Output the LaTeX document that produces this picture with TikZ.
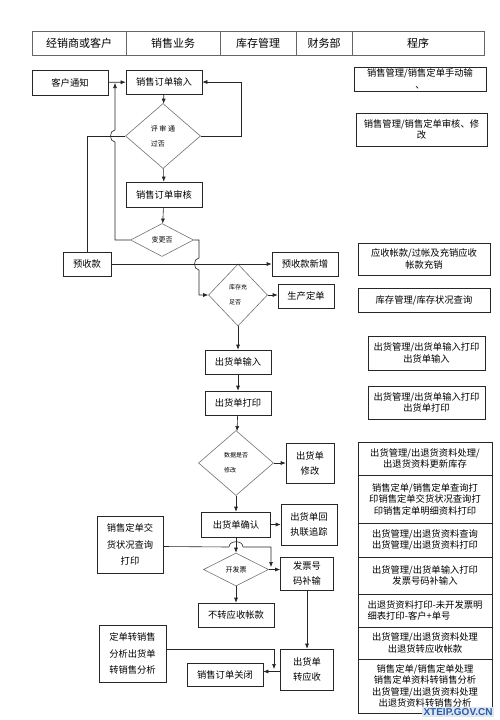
\documentclass[tikz,border=0pt]{standalone}
\usepackage{fontspec}
\setmainfont{Noto Sans CJK SC}
\newfontfamily\wmfont{Liberation Sans}
\usetikzlibrary{arrows.meta,shapes.geometric}
\definecolor{wmblue}{RGB}{40,90,170}
\definecolor{wmbg}{RGB}{222,230,240}
\begin{document}
\begin{tikzpicture}[x=1pt,y=-1pt,
  box/.style={draw=black!85, line width=0.6pt, align=center, inner sep=1pt, font=\fontsize{9.3}{15}\selectfont},
  prog/.style={draw=black!85, line width=0.6pt, align=center, inner sep=1pt, font=\fontsize{9.3}{11.5}\selectfont},
  hdr/.style={draw=black!60, line width=0.8pt, align=center, inner sep=1pt, minimum height=24pt, font=\fontsize{11}{13}\selectfont},
  dia/.style={draw=black!55, line width=0.6pt, diamond, inner sep=0pt, align=left, font=\fontsize{6}{15}\selectfont},
  conn/.style={draw=black!85, line width=0.6pt},
  arr/.style={conn, -{Latex[length=5pt,width=4pt]}},
]
\fill[white] (0,0) rectangle (500,720);
\useasboundingbox (0,0) rectangle (500,720);

% header
\node[hdr, minimum width=94pt] (h1) at (79,43) {经销商或客户};
\node[hdr, minimum width=94pt] (h2) at (173,43) {销售业务};
\node[hdr, minimum width=76pt] (h3) at (258,43) {库存管理};
\node[hdr, minimum width=56pt] (h4) at (324,43) {财务部};
\node[hdr, minimum width=132pt] (h5) at (418,43) {程序};

% flow boxes
\node[box, minimum width=76pt, minimum height=25pt] (c1) at (70,82.5) {客户通知};
\node[box, minimum width=76pt, minimum height=24pt] (c2) at (164,82) {销售订单输入};
\node[dia, minimum width=75pt, minimum height=65pt, font=\fontsize{7}{15}\selectfont] (D1) at (163,136) {评 审 通\\过否};
\node[box, minimum width=76pt, minimum height=25pt] (c3) at (164,194.5) {销售订单审核};
\node[dia, minimum width=63pt, minimum height=33pt, font=\fontsize{7}{9}\selectfont] (D2) at (162,240) {变更否};
\node[box, minimum width=48pt, minimum height=24pt] (c4) at (87,264) {预收款};
\node[box, minimum width=66pt, minimum height=24pt] (c5) at (305,264) {预收款新增};
\node[dia, minimum width=59pt, minimum height=62pt] (D3) at (238,295) {库存充\\足否};
\node[box, minimum width=56pt, minimum height=24pt] (c6) at (306,296) {生产定单};
\node[box, minimum width=66pt, minimum height=24pt] (c7) at (238,362) {出货单输入};
\node[box, minimum width=66pt, minimum height=24pt] (c8) at (238,403) {出货单打印};
\node[dia, minimum width=75pt, minimum height=65pt] (D4) at (236,463) {数据是否\\修改};
\node[box, minimum width=48pt, minimum height=40pt] (c9) at (310,463) {出货单\\修改};
\node[box, minimum width=69pt, minimum height=25pt] (c10) at (236,524.5) {出货单确认};
\node[box, minimum width=56pt, minimum height=41pt] (c11) at (309,524.5) {出货单回\\执联追踪};
\node[dia, minimum width=65pt, minimum height=33pt, font=\fontsize{7}{9}\selectfont] (D5) at (236,569.5) {开发票};
\node[box, minimum width=53pt, minimum height=33pt] (c12) at (307,573.5) {发票号\\码补输};
\node[box, minimum width=66pt, minimum height=57pt, font=\fontsize{9.3}{16.5}\selectfont] (c13) at (130,544.5) {销售定单交\\货状况查询\\打印};
\node[box, minimum width=76pt, minimum height=24pt] (c14) at (236,615) {不转应收帐款};
\node[box, minimum width=53pt, minimum height=41pt] (c15) at (307,669.5) {出货单\\转应收};
\node[box, minimum width=76pt, minimum height=23pt] (c16) at (225,674.5) {销售订单关闭};
\node[box, minimum width=67pt, minimum height=57pt, font=\fontsize{9.3}{16.5}\selectfont] (c17) at (132.5,653.5) {定单转销售\\分析出货单\\转销售分析};

% program boxes
\node[prog, minimum width=132pt, minimum height=24pt] (p1) at (420,79) {销售管理/销售定单手动输\\、};
\node[prog, minimum width=131pt, minimum height=33pt] (p2) at (421.5,129.5) {销售管理/销售定单审核、修\\改};
\node[prog, minimum width=132pt, minimum height=32pt] (p3) at (424,259) {应收帐款/过帐及充销应收\\帐款充销};
\node[prog, minimum width=132pt, minimum height=24pt] (p4) at (424,300) {库存管理/库存状况查询};
\node[prog, minimum width=117pt, minimum height=34pt] (p5) at (426.5,353) {出货管理/出货单输入打印\\出货单输入};
\node[prog, minimum width=117pt, minimum height=33pt] (p6) at (426.5,402.5) {出货管理/出货单输入打印\\出货单打印};
\node[prog, minimum width=134pt, minimum height=33pt] (sA) at (425,458.5) {出货管理/出退货资料处理/\\出退货资料更新库存};
\node[prog, minimum width=134pt, minimum height=48pt] (sB) at (425,499) {销售定单/销售定单查询打\\印销售定单交货状况查询打\\印销售定单明细资料打印};
\node[prog, minimum width=134pt, minimum height=34pt] (sC) at (425,540) {出货管理/出退货资料查询\\出货管理/出退货资料打印};
\node[prog, minimum width=134pt, minimum height=37pt] (sD) at (425,575.5) {出货管理/出货单输入打印\\发票号码补输入};
\node[prog, minimum width=134pt, minimum height=33pt, align=left] (sE) at (425,610.5) {出退货资料打印-未开发票明\\细表打印-客户+单号};
\node[prog, minimum width=134pt, minimum height=32pt] (sF) at (425,643) {出货管理/出退货资料处理\\出退货转应收帐款};
\node[prog, minimum width=134pt, minimum height=54pt] (sG) at (425,686) {销售定单/销售定单处理\\销售定单资料转销售分析\\出货管理/出退货资料处理\\出退货资料转销售分析};

% watermark
\node[font=\wmfont\bfseries\fontsize{10}{12}\selectfont, text=wmblue, fill=wmbg, inner sep=1.5pt] (wm) at (458,712) {XTEIP.GOV.CN};

% connectors
\coordinate (k0) at (115,83);
\coordinate (k1) at (271,567);
\coordinate (k2) at (274,669);
\draw[arr] (c1) -- (c2);
\draw[arr] (c2) -- (D1);
\draw[arr] (D1.east) -- ++(40,0) |- (c2.east);
\draw[arr] (D1) -- (c3);
\draw[arr] (c3) -- (D2);
\draw[conn] (D1.west) -| (c4.north);
\draw[arr] (D2.west) -- (k0 |- D2.west) -- (115,142) .. controls (109,142) and (109,130) .. (115,130) -- (k0);
\draw[arr] (D2.east) -- (199,240) -- (199,258) .. controls (193,258) and (193,270) .. (199,270) -- (199,295) -- (D3.west);
\draw[arr] (c4) -- (c5);
\draw[arr] (D3.east) -- (D3.east -| c6.west);
\draw[arr] (D3.south) -- (c7);
\draw[arr] (c7) -- (c8);
\draw[arr] (c8) -- (D4);
\draw[arr] (D4.east) -- (c9.west |- D4.east);
\draw[arr] (D4) -- (c10);
\draw[arr] (c10) -- (c11);
\draw[arr] (c10) -- (D5);
\draw[arr] (D5.east) -- (D5.east -| c12.west);
\draw[arr] (D5) -- (c14);
\draw[arr] ([yshift=-2pt]c13.east) -- (229,547) .. controls (229,540) and (243,540) .. (243,547) -- (k1 |- 0,547) -- (k1);
\draw[arr] (c12) -- (c15);
\draw[arr] ([yshift=-2pt]c15.west) -- ([yshift=3pt]c16.east);
\draw[arr] ([yshift=4.5pt]c17.east) -- (k2 |- 0,649) -- (k2);
\end{tikzpicture}
\end{document}
